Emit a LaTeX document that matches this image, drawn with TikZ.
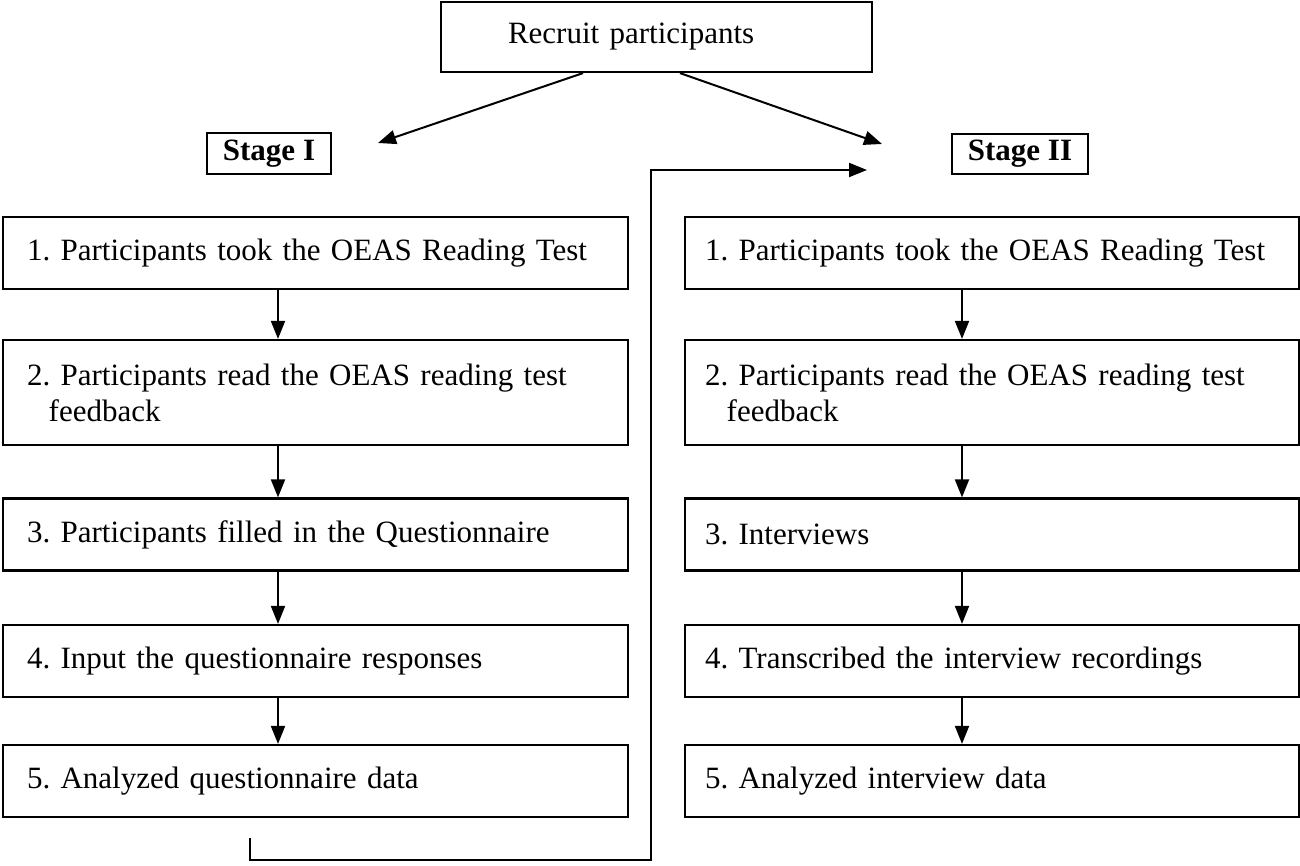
\documentclass[tikz,border=0pt]{standalone}
\usepackage{fontspec}
\setmainfont{Liberation Serif}
\usepackage{tikz}
\usetikzlibrary{calc}
\usetikzlibrary{arrows.meta}
\usetikzlibrary{positioning}

\tikzset{
  stepbox/.style={draw, line width=1.1pt, align=left, inner xsep=12pt,
    text width=288.5pt, minimum height=36pt,
    font=\fontsize{15.5pt}{18pt}\selectfont\frenchspacing},
  rstepbox/.style={stepbox, inner xsep=10pt, text width=287pt},
  stagebox/.style={draw, line width=1pt, minimum height=19.5pt, inner xsep=8pt,
    font=\fontsize{15.5pt}{18pt}\selectfont\bfseries},
  flow/.style={->, line width=1pt}
}

\begin{document}
\begin{tikzpicture}[x=0.5pt, y=-0.5pt, line cap=butt, line join=miter,
    >={Triangle[length=9pt, width=7pt]}]
  \useasboundingbox (0,0) rectangle (1300,866);
  %--- Recruit
    \node[draw, line width=1.1pt, minimum height=35pt,
      text width=148.5pt, align=left, inner xsep=33.5pt, inner ysep=0pt,
      font=\fontsize{15.5pt}{18pt}\selectfont] (recruit) at (656.5,37)
      {Recruit participants};
  %--- Stages
    \node[stagebox] (stage1) at (269,153.5) {Stage I};
    \node[stagebox] (stage2) at (1020,154) {Stage II};
    \coordinate (tl) at (583,0);
    \coordinate (tr) at (680,0);
    \coordinate (tip1) at (378,143);
    \coordinate (tip2) at (882,144);
    \draw[flow] (recruit.south -| tl) -- (tip1);
    \draw[flow] (recruit.south -| tr) -- (tip2);
  %--- Stage I steps
    \node[stepbox] (l1) at (315.5,253) {1. Participants took the OEAS Reading Test};
    \node[stepbox, minimum height=52.5pt] (l2) at (315.5,392.5)
      {2. Participants read the OEAS reading test\\\hspace*{0.7em}feedback};
    \node[stepbox] (l3) at (315.5,534.5) {3. Participants filled in the Questionnaire};
    \node[stepbox] (l4) at (315.5,661) {4. Input the questionnaire responses};
    \node[stepbox] (l5) at (315.5,781) {5. Analyzed questionnaire data};
  %--- Stage II steps
    \node[rstepbox] (r1) at (992,253) {1. Participants took the OEAS Reading Test};
    \node[rstepbox, minimum height=52.5pt] (r2) at (992,392.5)
      {2. Participants read the OEAS reading test\\\hspace*{0.7em}feedback};
    \node[rstepbox] (r3) at (992,534.5) {3. Interviews};
    \node[rstepbox] (r4) at (992,661) {4. Transcribed the interview recordings};
    \node[rstepbox] (r5) at (992,781) {5. Analyzed interview data};
  %--- arrows between steps
    \coordinate (lx) at (278,0);
    \coordinate (rx) at (962,0);
    \foreach \a/\b in {1/2, 2/3, 3/4, 4/5} {
      \draw[flow] (l\a.south -| lx) -- (l\b.north -| lx);
      \draw[flow] (r\a.south -| rx) -- (r\b.north -| rx);
    }
  %--- back to Stage II
    \coordinate (back) at (250,838);
    \coordinate (backend) at (867,170);
    \draw[flow] (back) -- ++(0,22) -| (651,170) -- (backend);
\end{tikzpicture}
\end{document}
